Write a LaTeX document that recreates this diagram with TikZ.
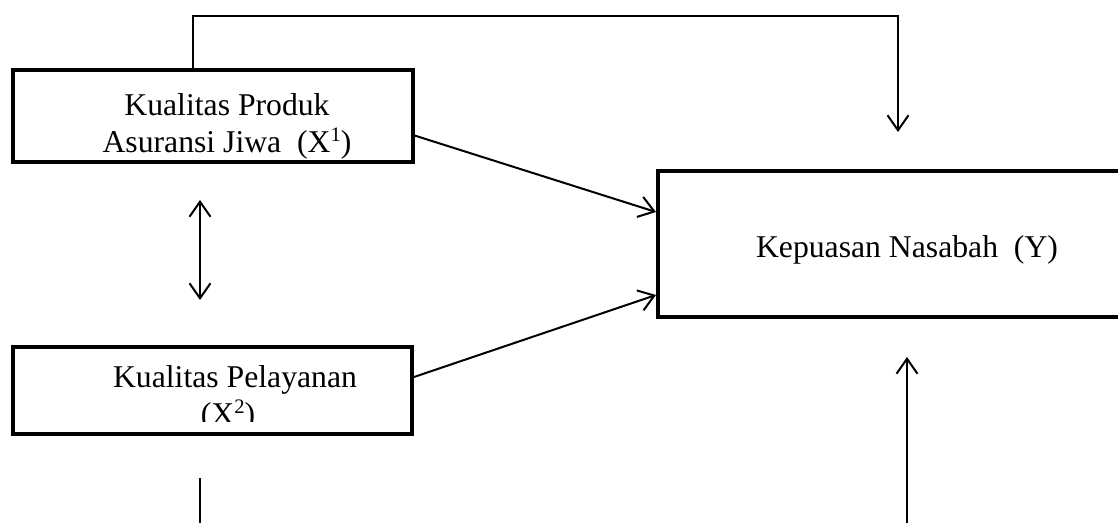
\documentclass[tikz,border=0pt]{standalone}
\usepackage{fontspec}
\setmainfont{Liberation Serif}
\usetikzlibrary{arrows.meta}
\newcommand{\wsup}[1]{\raisebox{0.33em}{\fontsize{20.6}{21}\selectfont #1}}
\begin{document}
\begin{tikzpicture}[x=1pt,y=-1pt,
  box/.style={draw=black,line width=4.8pt,rectangle,inner sep=0pt,outer sep=0pt,fill=white},
  txt/.style={anchor=base,inner sep=0pt,font=\fontsize{31.7}{37}\selectfont},
  conn/.style={draw=black,line width=2pt,-{Straight Barb[length=15pt,width=21pt,line width=2pt]}},
  plain/.style={draw=black,line width=2pt}]
\clip (0,0) rectangle (1118,523);
\fill[white] (0,0) rectangle (1118,523);
% boxes
\node[box,minimum width=400pt,minimum height=92pt] (b1) at (213,116) {};
\node[box,minimum width=399pt,minimum height=87pt] (b2) at (212.5,390.5) {};
\node[box,minimum width=470pt,minimum height=146pt] (bY) at (893,244) {};
% texts
\node[txt] (t1a) at (227,115) {Kualitas Produk};
\node[txt] (t1b) at (227,152) {Asuransi Jiwa\ \ (X\wsup{1})};
\node[txt] (t2a) at (235,387) {Kualitas Pelayanan};
\begin{scope}
\clip (0,0) rectangle (1118,421.5);
\node[txt] (t2b) at (228,424) {(X\wsup{2})};
\end{scope}
\node[txt] (tY) at (907,257) {Kepuasan Nasabah\ \ (Y)};
% coordinates
\coordinate (topR) at (898,16);
\coordinate (topTip) at (898,132);
\coordinate (dA) at (200,200);
\coordinate (dB) at (200,300);
\coordinate (u1) at (413,135);
\coordinate (u2) at (656,212);
\coordinate (l1) at (414,377);
\coordinate (l2) at (656,295);
\coordinate (bt1) at (907,523);
\coordinate (bt2) at (907,357);
\coordinate (s1) at (200,478);
\coordinate (s2) at (200,523);
% connectors
\draw[conn] ([xshift=-20pt]b1.north) |- (topR) -- (topTip);
\draw[conn,{Straight Barb[length=15pt,width=21pt,line width=2pt]}-{Straight Barb[length=15pt,width=21pt,line width=2pt]}] (dA) -- (dB);
\draw[conn] (u1) -- (u2);
\draw[conn] (l1) -- (l2);
\draw[conn] (bt1) -- (bt2);
\draw[plain] (s1) -- (s2);
\end{tikzpicture}
\end{document}
